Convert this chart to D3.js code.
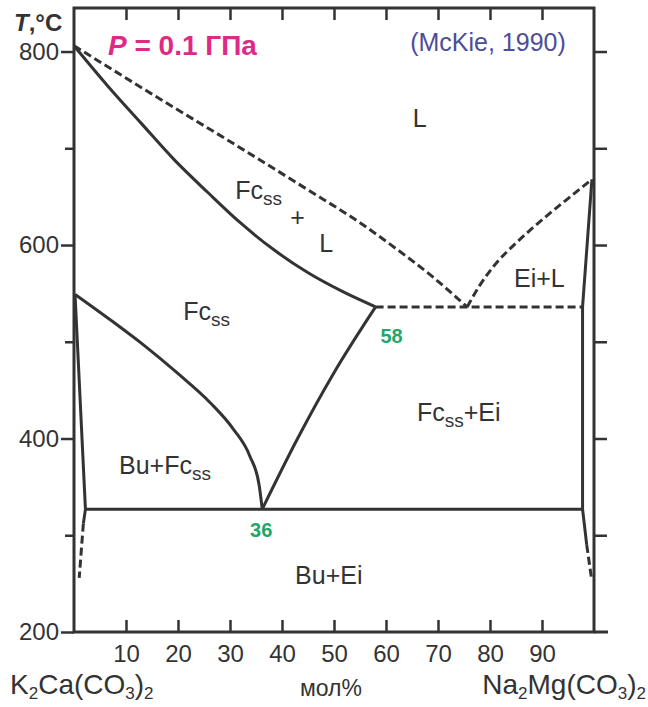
<!DOCTYPE html>
<html>
<head>
<meta charset="utf-8">
<script src="https://cdn.jsdelivr.net/npm/d3@7"></script>
<style>
  body { margin: 0; background: #fff; }
  text { font-family: "Liberation Sans", Arial, sans-serif; fill: #333; }
</style>
</head>
<body>
<div id="chart"></div>
<script>
// phase boundaries, [mol% Na2Mg(CO3)2, T °C]
const liquidusFc = [[0, 806], [6.4, 765], [12.9, 726], [19.3, 688], [25.8, 654], [32.2, 622], [38.7, 594], [45.1, 571], [51.6, 552], [58, 536]]
const liquidusUpper = [[0, 806], [15, 756], [30, 707], [45, 657], [55, 623], [62, 596], [69, 567], [75.6, 536]]
const liquidusEi = [[75.6, 536], [78, 558], [81, 580], [85, 602], [90, 626], [95, 648], [99.6, 668]]
const peritectic = [[58, 536], [97.8, 536]]
const solidusEi = [[99.6, 668], [97.8, 536], [97.8, 327], [98.6, 290]]
const solidusEiLow = [[98.6, 290], [99.5, 256]]
const solvusFcLeft = [[0.2, 549], [6.9, 523], [13.3, 497], [19.8, 468], [26.2, 437], [30.6, 410], [33.8, 382], [35.6, 352], [36.2, 327]]
const solvusFcRight = [[36.2, 327], [43, 400], [50, 468], [58, 536]]
const solvusBu = [[0.2, 549], [2.2, 327], [1.8, 312]]
const solvusBuLow = [[1.8, 312], [1.0, 256]]
const eutectoid = [[2.2, 327], [97.8, 327]]

const xTicks = [10, 20, 30, 40, 50, 60, 70, 80, 90]
const yMajor = [200, 400, 600, 800]
const yMinor = [300, 500, 700]
const yRight = [300, 400, 500, 600, 700, 800]

// phase field labels [x, T, text, sub, rest]
const fieldLabels = [
  [66.5, 722, 'L', '', ''],
  [35.5, 648, 'Fc', 'ss', ''],
  [43, 620, '+', '', ''],
  [48.5, 593, 'L', '', ''],
  [89.5, 557, 'Ei+L', '', ''],
  [25.5, 522, 'Fc', 'ss', ''],
  [74, 418, 'Fc', 'ss', '+Ei'],
  [17.5, 363, 'Bu+Fc', 'ss', ''],
  [49, 250, 'Bu+Ei', '', '']
]
const pointLabels = [[58, 536, '58'], [36, 327, '36']]

const W = 648, H = 707
const svg = d3.select('#chart').append('svg').attr('width', W).attr('height', H)

const x = d3.scaleLinear().domain([0, 100]).range([74, 594])
const y = d3.scaleLinear().domain([200, 845]).range([632, 8])
const ink = '#333'

const line = d3.line().x(d => x(d[0])).y(d => y(d[1]))
const curvy = d3.line().x(d => x(d[0])).y(d => y(d[1])).curve(d3.curveMonotoneX)

function draw(data, gen, dashed) {
  svg.append('path')
    .attr('d', gen(data))
    .attr('fill', 'none')
    .attr('stroke', ink)
    .attr('stroke-width', 3)
    .attr('stroke-dasharray', dashed ? '8,4' : null)
    .attr('stroke-linejoin', 'round')
}

// axes
function styleAxis(g) {
  g.select('.domain').remove()
  g.selectAll('line').attr('stroke', ink).attr('stroke-width', 2.5)
  g.selectAll('text').attr('fill', ink).style('font-size', '24px').style('font-family', '"Liberation Sans", Arial, sans-serif')
}
svg.append('g').attr('transform', 'translate(' + x(0) + ',0)')
  .call(d3.axisLeft(y).tickValues(yMajor).tickSize(13).tickPadding(2).tickFormat(d3.format('d')))
  .call(styleAxis)
svg.append('g').attr('transform', 'translate(' + x(0) + ',0)')
  .call(d3.axisLeft(y).tickValues(yMinor).tickSize(9).tickFormat(''))
  .call(styleAxis)
svg.append('g').attr('transform', 'translate(' + x(100) + ',0)')
  .call(d3.axisRight(y).tickValues(yRight).tickSize(13).tickFormat(''))
  .call(styleAxis)
svg.append('g').attr('transform', 'translate(0,' + y.range()[1] + ')')
  .call(d3.axisBottom(x).tickValues(xTicks).tickSize(12).tickFormat(''))
  .call(styleAxis)
svg.append('g').attr('transform', 'translate(0,' + y(200) + ')')
  .call(d3.axisBottom(x).tickValues(xTicks).tickSizeInner(-12).tickSizeOuter(0).tickPadding(13))
  .call(styleAxis)

// frame
svg.append('rect')
  .attr('x', x(0)).attr('y', y.range()[1])
  .attr('width', x(100) - x(0)).attr('height', y(200) - y.range()[1])
  .attr('fill', 'none').attr('stroke', ink).attr('stroke-width', 3)
svg.append('line')
  .attr('x1', x(100)).attr('x2', x(100) + 14)
  .attr('y1', y(200)).attr('y2', y(200))
  .attr('stroke', ink).attr('stroke-width', 3)

// boundaries
draw(liquidusFc, curvy, false)
draw(liquidusUpper, curvy, true)
draw(liquidusEi, curvy, true)
draw(peritectic, line, true)
draw(solidusEi, line, false)
draw(solidusEiLow, line, true)
draw(solvusFcLeft, curvy, false)
draw(solvusFcRight, curvy, false)
draw(solvusBu, line, false)
draw(solvusBuLow, line, true)
draw(eutectoid, line, false)

// field labels
fieldLabels.forEach(d => {
  let t = svg.append('text')
    .attr('x', x(d[0])).attr('y', y(d[1]))
    .attr('text-anchor', 'middle')
    .style('font-size', '25px')
  t.append('tspan').text(d[2])
  if (d[3]) t.append('tspan').attr('dy', 6).style('font-size', '19px').text(d[3])
  if (d[4]) t.append('tspan').attr('dy', -6).text(d[4])
})

// invariant point compositions
svg.append('text').attr('x', x(pointLabels[0][0]) + 16).attr('y', y(pointLabels[0][1]) + 36)
  .attr('text-anchor', 'middle').style('font-size', '20px').style('font-weight', 'bold')
  .style('fill', '#20a86a').text(pointLabels[0][2])
svg.append('text').attr('x', x(pointLabels[1][0])).attr('y', y(pointLabels[1][1]) + 28)
  .attr('text-anchor', 'middle').style('font-size', '20px').style('font-weight', 'bold')
  .style('fill', '#20a86a').text(pointLabels[1][2])

// titles
let yl = svg.append('text').attr('x', 14).attr('y', 31).style('font-size', '24px').style('font-weight', 'bold')
yl.append('tspan').style('font-style', 'italic').text('T')
yl.append('tspan').text(',°C')

let pt = svg.append('text').attr('x', 108).attr('y', 55)
  .style('font-size', '28px').style('font-weight', 'bold').style('fill', '#de2a85')
pt.append('tspan').style('font-style', 'italic').style('fill', '#de2a85').text('P')
pt.append('tspan').style('fill', '#de2a85').text(' = 0.1 ГПа')

svg.append('text').attr('x', 488).attr('y', 51).attr('text-anchor', 'middle')
  .style('font-size', '25px').style('fill', '#4d4d99').text('(McKie, 1990)')

function formula(xp, parts, anchor) {
  let t = svg.append('text').attr('x', xp).attr('y', 694).attr('text-anchor', anchor).style('font-size', '28px')
  parts.forEach(p => {
    if (p[1]) t.append('tspan').attr('dy', 5).style('font-size', '17px').text(p[0])
    else t.append('tspan').attr('dy', p[2] || 0).text(p[0])
  })
}
formula(10, [['K'], ['2', 1], ['Ca(CO', 0, -5], ['3', 1], [')', 0, -5], ['2', 1]], 'start')
formula(646, [['Na'], ['2', 1], ['Mg(CO', 0, -5], ['3', 1], [')', 0, -5], ['2', 1]], 'end')
svg.append('text').attr('x', 331).attr('y', 696).attr('text-anchor', 'middle').style('font-size', '23px').text('мол%')
</script>
</body>
</html>
